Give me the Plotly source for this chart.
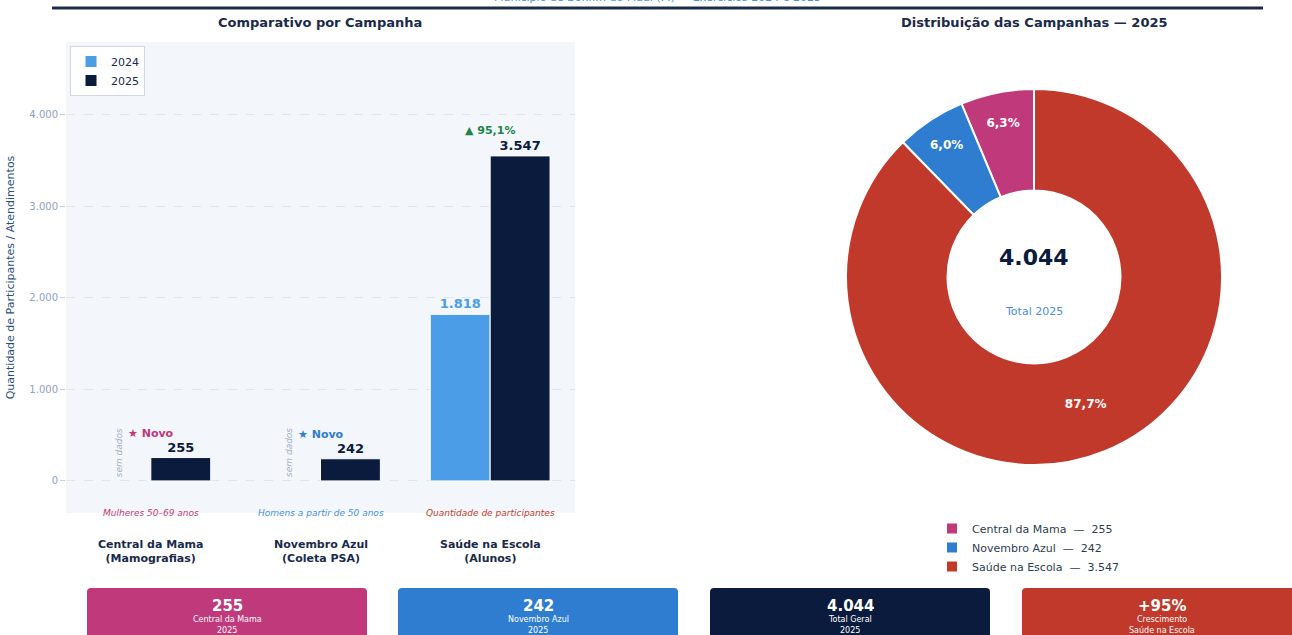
import plotly.graph_objects as go

# ---------------- data ----------------
campaigns = ["Central da Mama", "Novembro Azul", "Saúde na Escola"]
details = ["Mamografias", "Coleta PSA", "Alunos"]
subtitles = ["Mulheres 50–69 anos", "Homens a partir de 50 anos", "Quantidade de participantes"]
vals_2024 = [None, None, 1818]
vals_2025 = [255, 242, 3547]
years = ["2024", "2025"]
y_ticks = [0, 1000, 2000, 3000, 4000]

camp_colors = ["#c0397a", "#2e7dd1", "#c0392b"]
sub_colors = ["#c0397a", "#3f8fe0", "#c0392b"]
C24 = "#4a9de6"
C25 = "#0b1b3d"
DARK = "#1a2a4a"

W, H = 1292, 635


def fmt(v):
    return f"{v:,}".replace(",", ".")


def px_x(x):
    return x / W


def px_y(y):
    return 1 - y / H


total_2025 = sum(vals_2025)
growth = (vals_2025[2] - vals_2024[2]) / vals_2024[2] * 100
pcts = [f"{v / total_2025 * 100:.1f}%".replace(".", ",") for v in vals_2025]

fig = go.Figure()

# ---------------- bars ----------------
fig.add_trace(go.Bar(
    x=campaigns, y=vals_2024, name=years[0],
    marker=dict(color=C24, line=dict(color="white", width=1)),
    text=[f"<b>{fmt(v)}</b>" if v else "" for v in vals_2024],
    textposition="outside", textfont=dict(color=C24, size=13),
    cliponaxis=False, legend="legend",
))
fig.add_trace(go.Bar(
    x=campaigns, y=vals_2025, name=years[1],
    marker=dict(color=C25, line=dict(color="white", width=1)),
    text=[f"<b>{fmt(v)}</b>" for v in vals_2025],
    textposition="outside", textfont=dict(color=C25, size=13),
    cliponaxis=False, legend="legend",
))

# ---------------- pie ----------------
R = 188
cx, cy = 1034, 277
fig.add_trace(go.Pie(
    labels=[f"{c}\u00a0\u00a0—\u00a0\u00a0{fmt(v)}" for c, v in zip(campaigns, vals_2025)],
    values=vals_2025, text=[f"<b>{p}</b>" for p in pcts],
    textinfo="text", textposition="inside", insidetextorientation="horizontal",
    textfont=dict(color="white", size=12),
    hole=0.46, sort=False, direction="counterclockwise",
    rotation=-vals_2025[0] / total_2025 * 360,
    marker=dict(colors=camp_colors, line=dict(color="white", width=2)),
    domain=dict(x=[px_x(cx - R), px_x(cx + R)], y=[px_y(cy + R), px_y(cy - R)]),
    legend="legend2", showlegend=True,
))

annotations = []


def ann(text, x, y, size, color, xref="paper", **kw):
    d = dict(text=text, x=x, y=y, xref=xref, yref=kw.pop("yref", "paper"),
             xanchor=kw.pop("xanchor", "center"), yanchor=kw.pop("yanchor", "middle"),
             showarrow=False, font=dict(size=size, color=color))
    d.update(kw)
    annotations.append(d)


# subtitle (partly above the visible page, as in the reference) and panel titles
ann("Município de Bonfim do Piauí (PI) — Exercícios 2024 e 2025", px_x(657), px_y(-3),
    11, "#4a90d9")
ann("<b>Comparativo por Campanha</b>", px_x(320), px_y(22), 13, DARK)
ann("<b>Distribuição das Campanhas — 2025</b>", px_x(cx), px_y(22), 13, DARK)

# donut centre
ann(f"<b>{fmt(total_2025)}</b>", px_x(cx), px_y(257), 22, C25)
ann("Total 2025", px_x(cx), px_y(311), 11, "#4a90d9")

# category labels + subtitles
for i, c in enumerate(campaigns):
    ann(f"<b>{c}<br>({details[i]})</b>", c, px_y(551), 11, DARK, xref="x")
    ann(f"<i>{subtitles[i]}</i>", c, px_y(513), 9, sub_colors[i], xref="x")

# "sem dados" and badges
for i, c in enumerate(campaigns):
    if vals_2024[i] is None:
        ann("<i>sem dados</i>", c, 0, 9, "#a3b1c6", xref="x", yref="y",
            yanchor="bottom", xshift=-31, yshift=2, textangle=-90)
        ann("<b>★ Novo</b>", c, vals_2025[i], 11, camp_colors[i], xref="x", yref="y",
            yshift=24)
    else:
        ann(f"<b>▲ {growth:.1f}%</b>".replace(".", ","), c, vals_2025[i], 11, "#1e8449",
            xref="x", yref="y", yshift=25)

# cards
cards = [
    (fmt(vals_2025[0]), campaigns[0], "2025", camp_colors[0]),
    (fmt(vals_2025[1]), campaigns[1], "2025", camp_colors[1]),
    (fmt(total_2025), "Total Geral", "2025", C25),
    (f"+{growth:.0f}%", "Crescimento", campaigns[2], camp_colors[2]),
]
card_x0 = [87, 398, 710, 1022]
card_w = 280
shapes = []
for (big, l1, l2, col), x0 in zip(cards, card_x0):
    x1 = x0 + card_w
    y0, y1 = 588, 660
    r = 4
    path = (f"M {px_x(x0)},{px_y(y1)} L {px_x(x0)},{px_y(y0 + r)} "
            f"Q {px_x(x0)},{px_y(y0)} {px_x(x0 + r)},{px_y(y0)} "
            f"L {px_x(x1 - r)},{px_y(y0)} Q {px_x(x1)},{px_y(y0)} {px_x(x1)},{px_y(y0 + r)} "
            f"L {px_x(x1)},{px_y(y1)} Z")
    shapes.append(dict(type="path", path=path, xref="paper", yref="paper",
                       fillcolor=col, line=dict(width=0), layer="below"))
    xc = px_x(x0 + card_w / 2)
    ann(f"<b>{big}</b>", xc, px_y(606), 15, "white")
    ann(l1, xc, px_y(619), 8, "white")
    ann(l2, xc, px_y(630), 8, "white")

# top rule
shapes.append(dict(type="line", xref="paper", yref="paper", x0=px_x(52), x1=px_x(1263),
                   y0=px_y(8), y1=px_y(8), line=dict(color="#1c2b4a", width=3)))

fig.update_layout(
    width=W, height=H, margin=dict(l=0, r=0, t=0, b=0),
    paper_bgcolor="white", plot_bgcolor="#f3f6fb",
    font=dict(family="DejaVu Sans", color=DARK),
    separators=",.",
    barmode="group", bargap=0.294, bargroupgap=0.0,
    xaxis=dict(domain=[px_x(66), px_x(575)], type="category", categoryorder="array",
               categoryarray=campaigns, showticklabels=False, showgrid=False,
               zeroline=False, showline=False),
    yaxis=dict(domain=[px_y(513), px_y(42)], range=[-350, 4790], tickvals=y_ticks,
               ticktext=[fmt(v) for v in y_ticks], showgrid=True, gridcolor="#dfe5ee",
               griddash="dash", gridwidth=1, zeroline=False, ticks="outside", ticklen=5,
               tickcolor="#c5cfdd", tickfont=dict(size=10, color="#8ea2bf"),
               title=dict(text="Quantidade de Participantes / Atendimentos",
                          font=dict(size=11, color="#2b4c7e"), standoff=12)),
    legend=dict(x=px_x(70), y=px_y(46), xanchor="left", yanchor="top",
                bgcolor="white", bordercolor="#d0d7e2", borderwidth=1,
                font=dict(size=11, color=DARK), traceorder="normal"),
    legend2=dict(x=px_x(932), y=px_y(514), xanchor="left", yanchor="top",
                 bgcolor="rgba(0,0,0,0)", font=dict(size=11, color="#2c3e50"),
                 tracegroupgap=0),
    annotations=annotations, shapes=shapes,
)

fig.write_html("out.html", config={"displayModeBar": False},
               post_script="document.body.style.margin='0';document.body.style.overflow='hidden';")
